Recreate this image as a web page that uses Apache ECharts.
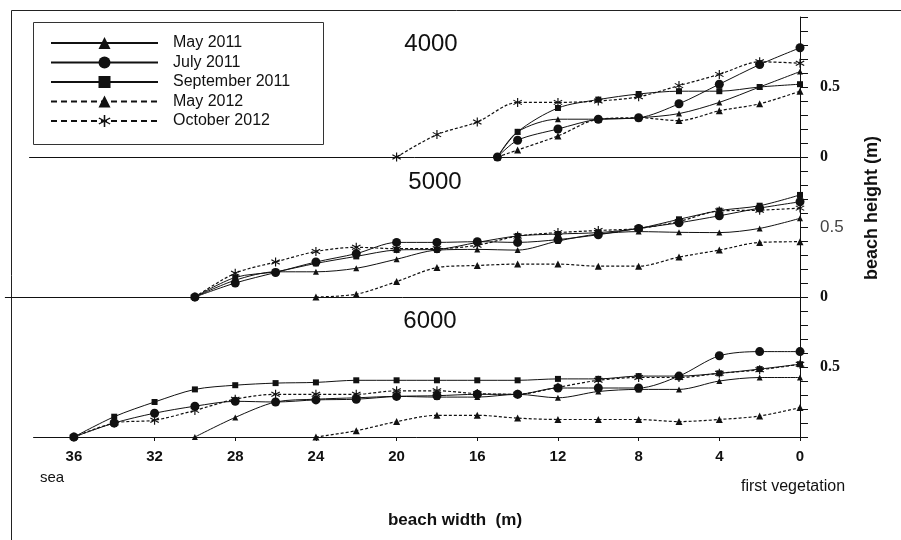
<!DOCTYPE html>
<html>
<head>
<meta charset="utf-8">
<script src="https://cdn.jsdelivr.net/npm/echarts@6/dist/echarts.min.js"></script>
<style>html,body{margin:0;padding:0;background:#fff}#c{width:901px;height:540px}</style>
</head>
<body>
<div id="c"></div>
<script>
// ---------- DATA ----------
const seriesNames = ['May 2011', 'July 2011', 'September 2011', 'May 2012', 'October 2012'];
const panelTitles = ['4000', '5000', '6000'];
const xTickValues = [0, 4, 8, 12, 16, 20, 24, 28, 32, 36];

// Panel 4000
const x4000a = [15, 14, 12, 10, 8, 6, 4, 2, 0];
const may2011_4000 = [0, 0.18, 0.27, 0.27, 0.28, 0.31, 0.39, 0.50, 0.61];
const jul2011_4000 = [0, 0.12, 0.20, 0.27, 0.28, 0.38, 0.52, 0.66, 0.78];
const sep2011_4000 = [0, 0.18, 0.35, 0.41, 0.45, 0.47, 0.47, 0.50, 0.52];
const may2012_4000 = [0, 0.05, 0.15, 0.27, 0.28, 0.26, 0.33, 0.38, 0.47];
const x4000b = [20, 18, 16, 14, 12, 10, 8, 6, 4, 2, 0];
const oct2012_4000 = [0, 0.16, 0.25, 0.39, 0.39, 0.40, 0.43, 0.51, 0.59, 0.68, 0.67];

// Panel 5000
const x5000a = [30, 28, 26, 24, 22, 20, 18, 16, 14, 12, 10, 8, 6, 4, 2, 0];
const may2011_5000 = [0, 0.12, 0.18, 0.18, 0.205, 0.27, 0.335, 0.34, 0.335, 0.40, 0.45, 0.467, 0.462, 0.46, 0.49, 0.562];
const jul2011_5000 = [0, 0.10, 0.175, 0.25, 0.31, 0.39, 0.39, 0.395, 0.39, 0.41, 0.445, 0.49, 0.53, 0.58, 0.635, 0.68];
const sep2011_5000 = [0, 0.14, 0.18, 0.24, 0.29, 0.336, 0.34, 0.39, 0.436, 0.45, 0.46, 0.49, 0.555, 0.617, 0.652, 0.729];
const oct2012_5000 = [0, 0.17, 0.25, 0.325, 0.355, 0.345, 0.345, 0.37, 0.435, 0.46, 0.475, 0.49, 0.54, 0.615, 0.62, 0.635];
const x5000b = [24, 22, 20, 18, 16, 14, 12, 10, 8, 6, 4, 2, 0];
const may2012_5000 = [0, 0.02, 0.11, 0.21, 0.225, 0.235, 0.235, 0.22, 0.22, 0.285, 0.335, 0.39, 0.395];

// Panel 6000
const x6000a = [36, 34, 32, 30, 28, 26, 24, 22, 20, 18, 16, 14, 12, 10, 8, 6, 4, 2, 0];
const sep2011_6000 = [0, 0.145, 0.25, 0.34, 0.37, 0.385, 0.39, 0.405, 0.405, 0.405, 0.405, 0.405, 0.415, 0.415, 0.435, 0.435, 0.455, 0.485, 0.52];
const jul2011_6000 = [0, 0.10, 0.17, 0.22, 0.255, 0.25, 0.265, 0.27, 0.29, 0.295, 0.305, 0.305, 0.35, 0.35, 0.35, 0.435, 0.58, 0.61, 0.61];
const oct2012_6000 = [0, 0.10, 0.12, 0.19, 0.27, 0.305, 0.305, 0.305, 0.33, 0.33, 0.31, 0.305, 0.355, 0.405, 0.425, 0.425, 0.455, 0.48, 0.52];
const x6000b = [30, 28, 26, 24, 22, 20, 18, 16, 14, 12, 10, 8, 6, 4, 2, 0];
const may2011_6000 = [0, 0.14, 0.25, 0.27, 0.28, 0.29, 0.285, 0.285, 0.305, 0.28, 0.325, 0.34, 0.34, 0.40, 0.425, 0.425];
const x6000c = [24, 22, 20, 18, 16, 14, 12, 10, 8, 6, 4, 2, 0];
const may2012_6000 = [0, 0.045, 0.11, 0.155, 0.155, 0.135, 0.125, 0.125, 0.125, 0.11, 0.125, 0.15, 0.21];

// ---------- BUILD ----------
const SANS = "'Liberation Sans', Arial, sans-serif";
const SERIF = "'Liberation Serif', 'Times New Roman', serif";
const NARROW = "'Liberation Sans Narrow', 'Arial Narrow', 'Liberation Sans', sans-serif";
const INK = '#111';
const ASTER = 'path://M-1.2,-10L1.2,-10L1.2,10L-1.2,10Z M-8.06,-6.04L9.26,3.96L8.06,6.04L-9.26,-3.96Z M9.26,-3.96L-8.06,6.04L-9.26,3.96L8.06,-6.04Z';

const styleOf = {
  'May 2011':       {symbol: 'triangle', size: 6, dash: 'solid'},
  'July 2011':      {symbol: 'circle',   size: 9, dash: 'solid'},
  'September 2011': {symbol: 'rect',     size: 6, dash: 'solid'},
  'May 2012':       {symbol: 'triangle', size: 7, dash: [3, 2]},
  'October 2012':   {symbol: ASTER,      size: 9, dash: [3, 2]}
};

function pairs(xs, ys) { return xs.map((x, i) => [x, ys[i]]); }

const panels = [
  {sets: [['May 2011', x4000a, may2011_4000], ['July 2011', x4000a, jul2011_4000], ['September 2011', x4000a, sep2011_4000], ['May 2012', x4000a, may2012_4000], ['October 2012', x4000b, oct2012_4000]]},
  {sets: [['May 2011', x5000a, may2011_5000], ['July 2011', x5000a, jul2011_5000], ['September 2011', x5000a, sep2011_5000], ['May 2012', x5000b, may2012_5000], ['October 2012', x5000a, oct2012_5000]]},
  {sets: [['May 2011', x6000b, may2011_6000], ['July 2011', x6000a, jul2011_6000], ['September 2011', x6000a, sep2011_6000], ['May 2012', x6000c, may2012_6000], ['October 2012', x6000a, oct2012_6000]]}
];

const PX_PER_M = 20.17;
const X0 = 800;           // pixel of beach width 0
const panelTop = [17, 157, 297];
const panelH = 140;
const xMax = [38.2, 39.4, 38];

const grid = [], xAxis = [], yAxis = [], series = [];
panels.forEach((p, gi) => {
  grid.push({left: X0 - xMax[gi] * PX_PER_M, right: 901 - X0, top: panelTop[gi], height: panelH, containLabel: false});
  const isBottom = gi === 2;
  xAxis.push({
    type: 'value', gridIndex: gi, min: 0, max: xMax[gi], inverse: true, interval: 4,
    axisLine: {show: true, onZero: false, lineStyle: {color: INK, width: 1}},
    axisTick: {show: isBottom, length: 4, customValues: xTickValues, lineStyle: {color: INK}},
    axisLabel: {show: isBottom, customValues: xTickValues, margin: 12, fontFamily: NARROW, fontWeight: 'bold', fontSize: 15, color: INK,
      formatter: v => (xTickValues.indexOf(v) >= 0 ? String(v) : '')},
    splitLine: {show: false}
  });
  yAxis.push({
    type: 'value', gridIndex: gi, position: 'right', min: 0, max: 1, interval: 0.1,
    axisLine: {show: true, lineStyle: {color: INK, width: 1}},
    axisTick: {show: true, inside: false, length: 8, lineStyle: {color: INK}},
    axisLabel: {
      show: true, margin: 20, color: INK, fontSize: 16, fontFamily: SERIF, fontWeight: 'bold',
      formatter: v => {
        const r = Math.round(v * 10);
        if (r === 0 && gi < 2) return '{z|0}';
        if (r === 5) return gi === 1 ? '{s|0.5}' : '{z|0.5}';
        return '';
      },
      rich: {
        z: {fontFamily: SERIF, fontWeight: 'bold', fontSize: 16, color: INK},
        s: {fontFamily: SANS, fontWeight: 'normal', fontSize: 17, color: '#444'}
      }
    },
    splitLine: {show: false}
  });
  p.sets.forEach(([name, xs, ys]) => {
    const st = styleOf[name];
    series.push({
      name, type: 'line', xAxisIndex: gi, yAxisIndex: gi,
      data: pairs(xs, ys),
      smooth: 0.3,
      symbol: st.symbol, symbolSize: st.size, showSymbol: true,
      itemStyle: {color: INK},
      lineStyle: {color: INK, width: st.dash === 'solid' ? 1 : 1.2, type: st.dash},
      emphasis: {disabled: true},
      animation: false, z: 3
    });
  });
});

const option = {
  animation: false,
  backgroundColor: '#fff',
  grid, xAxis, yAxis, series,
  legend: {
    orient: 'vertical', left: 50, top: 35, padding: 0,
    itemWidth: 107, itemHeight: 15, itemGap: 3.5,
    selectedMode: false,
    textStyle: {fontFamily: SANS, fontSize: 16, color: INK, padding: [0, 0, 0, 10]},
    data: [
      {name: 'May 2011'},
      {name: 'July 2011'},
      {name: 'September 2011'},
      {name: 'May 2012', lineStyle: {type: [6, 4]}},
      {name: 'October 2012', lineStyle: {type: [6, 4]}}
    ]
  },
  graphic: [
    {type: 'rect', shape: {x: 11.5, y: 10.5, width: 900, height: 540}, style: {fill: null, stroke: '#222', lineWidth: 1}, silent: true},
    {type: 'rect', shape: {x: 33.5, y: 22.5, width: 290, height: 122}, style: {fill: null, stroke: '#333', lineWidth: 1}, silent: true},
    {type: 'text', x: 431, y: 44, style: {text: panelTitles[0], font: '24px ' + SANS, fill: INK, textAlign: 'center', textVerticalAlign: 'middle'}},
    {type: 'text', x: 435, y: 182, style: {text: panelTitles[1], font: '24px ' + SANS, fill: INK, textAlign: 'center', textVerticalAlign: 'middle'}},
    {type: 'text', x: 430, y: 321, style: {text: panelTitles[2], font: '24px ' + SANS, fill: INK, textAlign: 'center', textVerticalAlign: 'middle'}},
    {type: 'text', x: 40, y: 478, style: {text: 'sea', font: '15px ' + SANS, fill: INK, textAlign: 'left', textVerticalAlign: 'middle'}},
    {type: 'text', x: 741, y: 487, style: {text: 'first vegetation', font: '16px ' + SANS, fill: INK, textAlign: 'left', textVerticalAlign: 'middle'}},
    {type: 'text', x: 455, y: 520, style: {text: 'beach width  (m)', font: 'bold 17px ' + SANS, fill: INK, textAlign: 'center', textVerticalAlign: 'middle'}},
    {type: 'text', x: 872, y: 208, rotation: Math.PI / 2, style: {text: 'beach height (m)', font: 'bold 18px ' + SANS, fill: INK, textAlign: 'center', textVerticalAlign: 'middle'}}
  ]
};

const chart = echarts.init(document.getElementById('c'), null, {renderer: 'canvas'});
chart.setOption(option);
</script>
</body>
</html>
